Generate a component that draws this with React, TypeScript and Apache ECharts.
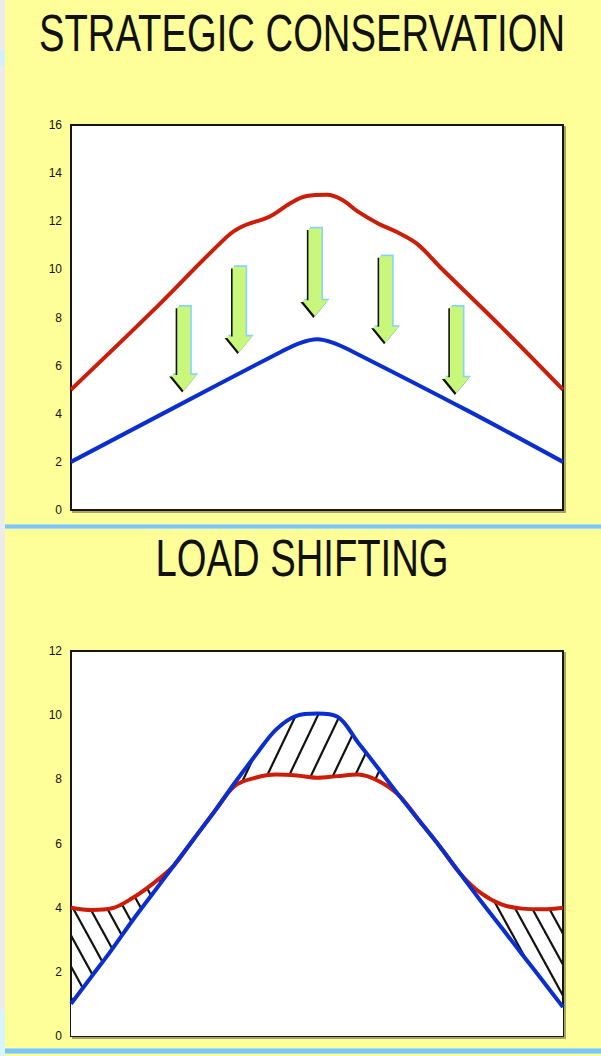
import React, { useEffect, useRef } from "react";
import * as echarts from "echarts";

// ---- Strategic conservation panel (hour of day vs. load) ----
const topRedHours = [0, 3.9, 7.6, 8.4, 9.7, 10.7, 11.5, 12.5, 13.2, 14, 15, 15.9, 16.9, 18, 21, 24];
const topRedLoad = [5, 8.2, 11.35, 11.8, 12.2, 12.75, 13.05, 13.1, 12.9, 12.4, 11.9, 11.55, 11.05, 10.1, 7.6, 5];
const topBlueHours = [0, 4.8, 10.3, 11.2, 12, 12.8, 13.7, 19.3, 24];
const topBlueLoad = [2, 4.15, 6.6, 6.95, 7.1, 6.95, 6.6, 4.15, 2];
const arrowHours = [5.5, 8.2, 11.9, 15.35, 18.8];
const arrowFrom = [8.45, 10.1, 11.7, 10.55, 8.45];
const arrowTo = [4.95, 6.55, 8.05, 6.95, 4.85];
const topTicks = [0, 2, 4, 6, 8, 10, 12, 14, 16];

// ---- Load shifting panel ----
const shiftHours = [0, 1, 2, 3, 4, 5, 6, 7, 8, 9, 10, 11, 12, 13, 14, 15, 16, 17, 18, 19, 20, 21, 22, 23, 24];
const shiftRed = [4.0, 3.93, 3.98, 4.3, 4.75, 5.3, 6.15, 7.0, 7.8, 8.05, 8.15, 8.12, 8.05, 8.1, 8.15, 7.95, 7.5, 6.7, 5.9, 5.05, 4.45, 4.1, 3.97, 3.95, 4.0];
const shiftBlue = [1.0, 1.85, 2.7, 3.6, 4.45, 5.3, 6.15, 7.0, 7.9, 8.75, 9.55, 9.98, 10.05, 9.95, 9.15, 8.33, 7.5, 6.7, 5.9, 5.05, 4.2, 3.38, 2.55, 1.73, 0.9];
const shiftTicks = [0, 2, 4, 6, 8, 10, 12];

const TITLES = ["STRATEGIC CONSERVATION", "LOAD SHIFTING"];

const RED = "#cc1d08";
const BLUE = "#0a2ed0";

// Diagonal hatch tile: dir 1 draws "\" strokes, dir -1 draws "/" strokes
function hatchTile(dir: 1 | -1, w: number, h: number) {
  const c = document.createElement("canvas");
  c.width = w;
  c.height = h;
  const g = c.getContext("2d")!;
  g.strokeStyle = "#111";
  g.lineWidth = 2.2;
  for (const k of [-1, 0, 1]) {
    g.beginPath();
    if (dir > 0) {
      g.moveTo(k * w - w, -h);
      g.lineTo(k * w + 2 * w, 2 * h);
    } else {
      g.moveTo(k * w + 2 * w, -h);
      g.lineTo(k * w - w, 2 * h);
    }
    g.stroke();
  }
  return c;
}

function pairs(xs: number[], ys: number[]) {
  return xs.map((x, i) => [x, ys[i]]);
}

export default function App() {
  const ref = useRef<HTMLDivElement>(null);

  useEffect(() => {
    document.body.style.margin = "0";
    const chart = echarts.init(ref.current!, null, { renderer: "svg" });

    const back = hatchTile(1, 17, 31);
    const fwd = hatchTile(-1, 22, 46);

    const lower = shiftHours.map((h, i) => [h, Math.min(shiftRed[i], shiftBlue[i])]);
    const arrows = arrowHours.map((h, i) => [h, arrowFrom[i], arrowTo[i]]);

    const yAxisCommon = {
      type: "value" as const,
      interval: 2,
      axisLine: { show: false },
      axisTick: { show: false },
      splitLine: { show: false },
      axisLabel: {
        margin: 9,
        fontSize: 12,
        fontFamily: "Liberation Sans",
        color: "#111111",
      },
    };
    const xAxisCommon = {
      type: "value" as const,
      min: 0,
      max: 24,
      show: false,
    };
    const gridCommon = {
      show: true,
      left: 71,
      width: 492,
      height: 385,
      backgroundColor: "#ffffff",
      borderColor: "#141414",
      borderWidth: 2,
      shadowColor: "rgba(0,0,0,0.35)",
      shadowOffsetX: 2,
      shadowOffsetY: 2,
      shadowBlur: 1,
    };
    const lineCommon = {
      type: "line" as const,
      symbol: "none",
      smooth: 0.35,
      silent: true,
    };
    const hidden = { width: 0, opacity: 0 };

    chart.setOption({
      animation: false,
      backgroundColor: "#ffff99",
      grid: [
        { ...gridCommon, top: 125 },
        { ...gridCommon, top: 651 },
      ],
      xAxis: [
        { ...xAxisCommon, gridIndex: 0 },
        { ...xAxisCommon, gridIndex: 1 },
      ],
      yAxis: [
        { ...yAxisCommon, gridIndex: 0, min: topTicks[0], max: topTicks[topTicks.length - 1] },
        { ...yAxisCommon, gridIndex: 1, min: shiftTicks[0], max: shiftTicks[shiftTicks.length - 1] },
      ],
      graphic: [
        { type: "rect", shape: { x: 0, y: 0, width: 5, height: 1056 }, style: { fill: "#ececec" } },
        { type: "rect", shape: { x: 0, y: 50, width: 5, height: 16 }, style: { fill: "#d4f0ff" } },
        { type: "rect", shape: { x: 0, y: 1010, width: 5, height: 46 }, style: { fill: "#d8f4ff" } },
        { type: "rect", shape: { x: 5, y: 524, width: 596, height: 5 }, style: { fill: "#a9dcf6" } },
        { type: "rect", shape: { x: 5, y: 525, width: 596, height: 3 }, style: { fill: "#7cc6ef" } },
        { type: "rect", shape: { x: 5, y: 1048, width: 596, height: 6 }, style: { fill: "#a9dcf6" } },
        { type: "rect", shape: { x: 5, y: 1049, width: 596, height: 4 }, style: { fill: "#7cc6ef" } },
        {
          type: "text",
          x: 302,
          y: 33,
          scaleX: 0.75,
          style: {
            text: TITLES[0],
            x: 0,
            y: 0,
            fontSize: 51,
            fontFamily: "Liberation Sans",
            fill: "#111",
            textAlign: "center",
            textVerticalAlign: "middle",
          },
        },
        {
          type: "text",
          x: 302,
          y: 558,
          scaleX: 0.75,
          style: {
            text: TITLES[1],
            x: 0,
            y: 0,
            fontSize: 51,
            fontFamily: "Liberation Sans",
            fill: "#111",
            textAlign: "center",
            textVerticalAlign: "middle",
          },
        },
      ],
      series: [
        // Strategic conservation: before and after load curves
        {
          ...lineCommon,
          xAxisIndex: 0,
          yAxisIndex: 0,
          data: pairs(topRedHours, topRedLoad),
          lineStyle: { color: RED, width: 4 },
        },
        {
          ...lineCommon,
          xAxisIndex: 0,
          yAxisIndex: 0,
          data: pairs(topBlueHours, topBlueLoad),
          lineStyle: { color: BLUE, width: 4 },
        },
        {
          type: "custom",
          xAxisIndex: 0,
          yAxisIndex: 0,
          silent: true,
          data: arrows,
          encode: { x: 0, y: [1, 2] },
          renderItem: (_params: any, api: any) => {
            const p0 = api.coord([api.value(0), api.value(1)]);
            const p1 = api.coord([api.value(0), api.value(2)]);
            const cx = p0[0];
            const top = p0[1];
            const tip = p1[1];
            const sw = 6.5;
            const hw = 13;
            const hh = 16;
            const pts = [
              [cx - sw, top],
              [cx + sw, top],
              [cx + sw, tip - hh],
              [cx + hw, tip - hh],
              [cx, tip],
              [cx - hw, tip - hh],
              [cx - sw, tip - hh],
            ];
            const shift = (dx: number, dy: number) => pts.map(([a, b]) => [a + dx, b + dy]);
            return {
              type: "group",
              children: [
                { type: "polygon", shape: { points: shift(1.6, -1.6) }, style: { fill: "#86d4fb" } },
                { type: "polygon", shape: { points: shift(-1.6, 1.6) }, style: { fill: "#111111" } },
                { type: "polygon", shape: { points: pts }, style: { fill: "#c8f77c" } },
              ],
            };
          },
        },
        // Load shifting: hatch under each curve, then the common part under both is blanked
        {
          ...lineCommon,
          xAxisIndex: 1,
          yAxisIndex: 1,
          data: pairs(shiftHours, shiftRed),
          lineStyle: hidden,
          areaStyle: { color: { image: back, repeat: "repeat", imageWidth: 17, imageHeight: 31 }, opacity: 1 },
        },
        {
          ...lineCommon,
          xAxisIndex: 1,
          yAxisIndex: 1,
          data: pairs(shiftHours, shiftBlue),
          lineStyle: hidden,
          areaStyle: { color: { image: fwd, repeat: "repeat", imageWidth: 22, imageHeight: 46 }, opacity: 1 },
        },
        {
          ...lineCommon,
          xAxisIndex: 1,
          yAxisIndex: 1,
          data: lower,
          lineStyle: hidden,
          areaStyle: { color: "#ffffff", opacity: 1 },
        },
        {
          ...lineCommon,
          xAxisIndex: 1,
          yAxisIndex: 1,
          data: pairs(shiftHours, shiftRed),
          lineStyle: { color: RED, width: 4 },
        },
        {
          ...lineCommon,
          xAxisIndex: 1,
          yAxisIndex: 1,
          data: pairs(shiftHours, shiftBlue),
          lineStyle: { color: BLUE, width: 4 },
        },
      ],
    });

    return () => chart.dispose();
  }, []);

  return <div ref={ref} style={{ width: 601, height: 1056 }} />;
}
